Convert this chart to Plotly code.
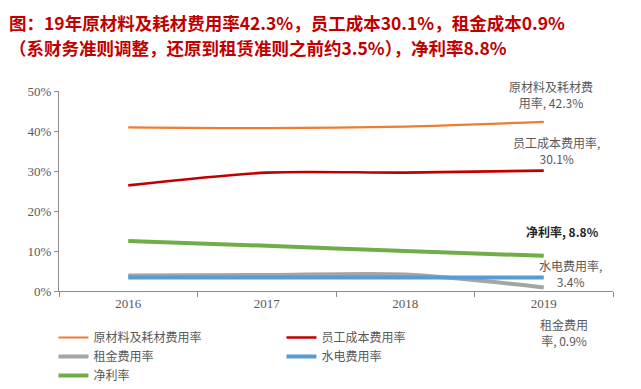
import plotly.graph_objects as go

years = ["2016", "2017", "2018", "2019"]
raw_material = [40.9, 40.7, 41.1, 42.3]
staff_cost = [26.4, 29.6, 29.6, 30.1]
rent_cost = [3.9, 4.0, 4.1, 0.9]
utility_cost = [3.4, 3.4, 3.4, 3.4]
net_margin = [12.5, 11.3, 10.0, 8.8]

series = [
    ("原材料及耗材费用率", raw_material, "#ED7D31", 2.2),
    ("员工成本费用率", staff_cost, "#C00000", 2.6),
    ("租金费用率", rent_cost, "#A5A5A5", 4),
    ("水电费用率", utility_cost, "#5B9BD5", 4),
    ("净利率", net_margin, "#70AD47", 4),
]

fig = go.Figure()
for name, vals, color, w in series:
    fig.add_trace(go.Scatter(x=years, y=vals, name=name, mode="lines",
                             line=dict(color=color, width=w, shape="spline", smoothing=0.8)))

cjk = "Noto Sans CJK SC"
serif = "Liberation Serif"
gray = "#595959"

fig.update_layout(
    width=641, height=389,
    margin=dict(l=59, r=28, t=91, b=98, autoexpand=False),
    paper_bgcolor="white", plot_bgcolor="white",
    showlegend=True,
    legend=dict(orientation="h", x=-0.01, xanchor="left", y=-0.16, yanchor="top",
                entrywidth=183, entrywidthmode="pixels",
                font=dict(family=cjk, size=12, color=gray), itemwidth=30,
                tracegroupgap=0),
    xaxis=dict(type="category", range=[-0.5, 3.5], showline=True, linecolor="#8c8c8c",
               linewidth=1.3, ticks="outside", tickson="boundaries", ticklen=5,
               tickcolor="#8c8c8c", showgrid=False,
               tickfont=dict(family=serif, size=13, color=gray)),
    yaxis=dict(range=[0, 50], dtick=10, ticksuffix="%", showline=True, linecolor="#8c8c8c",
               linewidth=1.3, ticks="outside", ticklen=4, tickcolor="#8c8c8c", showgrid=False,
               zeroline=False, tickfont=dict(family=serif, size=13, color=gray)),
)

title_font = dict(family=cjk, size=17.5, color="#C00000")
fig.add_annotation(text="<b>图：19年原材料及耗材费用率42.3%，员工成本30.1%，租金成本0.9%</b>",
                   xref="paper", yref="paper", x=-0.094, y=1.0 + (91 - 22) / 200,
                   xanchor="left", yanchor="middle", showarrow=False, font=title_font)
fig.add_annotation(text="<b>（系财务准则调整，还原到租赁准则之前约3.5%），净利率8.8%</b>",
                   xref="paper", yref="paper", x=-0.094, y=1.0 + (91 - 48) / 200,
                   xanchor="left", yanchor="middle", showarrow=False, font=title_font)

lab_font = dict(family=cjk, size=12, color=gray)
def lab(text, xpx, ypx, font=lab_font):
    fig.add_annotation(text=text, xref="paper", yref="paper",
                       x=(xpx - 59) / 554, y=(291 - ypx) / 200,
                       xanchor="center", yanchor="middle", showarrow=False, font=font)

lab("原材料及耗材费<br>用率, 42.3%", 551, 94)
lab("员工成本费用率,<br>30.1%", 556, 150)
lab("<b>净利率, 8.8%</b>", 562, 231, dict(family=cjk, size=12, color="#262626"))
lab("水电费用率,<br>3.4%", 570, 273)
lab("租金费用<br>率, 0.9%", 564, 332)

fig.write_html("out.html", config={"displayModeBar": False},
               post_script="document.body.style.margin='0px';")
